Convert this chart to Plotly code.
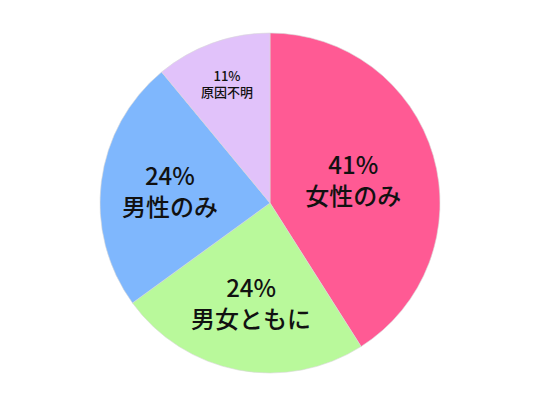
import plotly.graph_objects as go

labels = ["女性のみ", "男女ともに", "男性のみ", "原因不明"]
values = [41, 24, 24, 11]
colors = ["#FF5A94", "#B9F99B", "#7FB7FD", "#E1C2FA"]
text_sizes = [24, 24, 24, 13]

# the page body has an 8px margin, so the pie domain is shifted to compensate
fig = go.Figure(go.Pie(
    labels=labels,
    values=values,
    sort=False,
    direction="clockwise",
    rotation=0,
    marker=dict(colors=colors, line=dict(color="#d8d8d8", width=0.6)),
    texttemplate="%{value}%<br>%{label}",
    textposition="inside",
    insidetextorientation="horizontal",
    insidetextfont=dict(family="Noto Sans CJK JP", size=text_sizes, color="#111111", weight=500),
    hoverinfo="label+percent",
    showlegend=False,
    domain=dict(x=[92 / 540, 432 / 540], y=[1 - 365 / 405, 1 - 25 / 405]),
))

fig.update_layout(
    width=540,
    height=405,
    margin=dict(l=0, r=0, t=0, b=0),
    paper_bgcolor="white",
    plot_bgcolor="white",
)

fig.write_html("out.html")
